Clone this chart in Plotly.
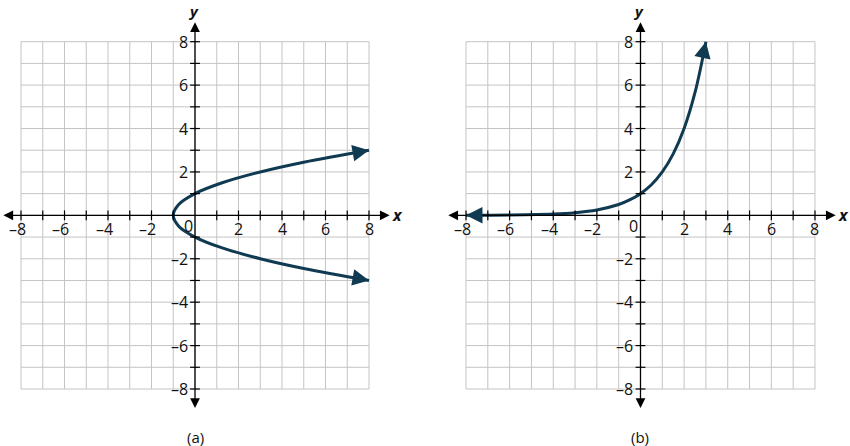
import plotly.graph_objects as go

# grid / tick values shared by both panels
grid_vals = list(range(-8, 9))
tick_labels = [-8, -6, -4, -2, 2, 4, 6, 8]

# (a) sideways parabola
para_x = [8, 5, 3, 1.25, 0, -0.75, -1, -0.75, 0, 1.25, 3, 5, 8]
para_y = [-3, -2.45, -2, -1.5, -1, -0.5, 0, 0.5, 1, 1.5, 2, 2.45, 3]

# (b) exponential curve
exp_x = [-8, -6, -4, -3, -2, -1, -0.5, 0, 0.5, 1, 1.5, 2, 2.5, 3]
exp_y = [0.004, 0.016, 0.06, 0.125, 0.25, 0.5, 0.71, 1, 1.41, 2, 2.83, 4, 5.66, 8]

curve_color = "#0f3a52"
grid_color = "#c4c4c4"
text_color = "#111111"
font_family = "Open Sans"

fig = go.Figure()

panels = [("x", "y", para_x, para_y, "(a)"), ("x2", "y2", exp_x, exp_y, "(b)")]
shapes = []
annotations = []

for xa, ya, cx, cy, lab in panels:
    # square grid, only over -8..8
    for v in grid_vals:
        shapes.append(dict(type="line", xref=xa, yref=ya, x0=v, x1=v, y0=-8, y1=8,
                           line=dict(color=grid_color, width=1), layer="below"))
        shapes.append(dict(type="line", xref=xa, yref=ya, x0=-8, x1=8, y0=v, y1=v,
                           line=dict(color=grid_color, width=1), layer="below"))

    fig.add_trace(go.Scatter(x=cx, y=cy, mode="lines", xaxis=xa, yaxis=ya,
                             line=dict(color=curve_color, width=3, shape="spline"),
                             showlegend=False, hoverinfo="skip"))
    # small tick marks crossing the axes
    nz = [v for v in grid_vals if v != 0]
    fig.add_trace(go.Scatter(x=nz, y=[0] * len(nz), mode="markers", xaxis=xa, yaxis=ya,
                             marker=dict(symbol="line-ns", size=7, line=dict(color="black", width=1.2)),
                             showlegend=False, hoverinfo="skip"))
    fig.add_trace(go.Scatter(x=[0] * len(nz), y=nz, mode="markers", xaxis=xa, yaxis=ya,
                             marker=dict(symbol="line-ew", size=7, line=dict(color="black", width=1.2)),
                             showlegend=False, hoverinfo="skip"))

    # axis lines with arrowheads at both ends
    annotations.append(dict(x=8.95, y=0, ax=-8.88, ay=0, xref=xa, yref=ya,
                            axref=xa, ayref=ya, text="", showarrow=True,
                            arrowhead=2, startarrowhead=2, arrowside="end+start",
                            arrowsize=1.5, startarrowsize=1.5, arrowwidth=1.3, arrowcolor="black"))
    annotations.append(dict(x=0, y=8.9, ax=0, ay=-8.95, xref=xa, yref=ya,
                            axref=xa, ayref=ya, text="", showarrow=True,
                            arrowhead=2, startarrowhead=2, arrowside="end+start",
                            arrowsize=1.5, startarrowsize=1.5, arrowwidth=1.3, arrowcolor="black"))
    # tick labels (digit centred on the tick, dash hanging left)
    for v in tick_labels:
        annotations.append(dict(x=v, y=0, xref=xa, yref=ya, text=str(v).replace("-", "–"),
                                showarrow=False, yshift=-14, xshift=-4 if v < 0 else 0,
                                font=dict(size=16, color=text_color)))
        annotations.append(dict(x=0, y=v, xref=xa, yref=ya, text=str(v).replace("-", "–"),
                                showarrow=False, xanchor="right", xshift=-5,
                                font=dict(size=16, color=text_color)))
    annotations.append(dict(x=0, y=0, xref=xa, yref=ya, text="0", showarrow=False,
                            xshift=-7, yshift=-11, font=dict(size=16, color=text_color)))
    # axis names
    annotations.append(dict(x=9.33, y=0, xref=xa, yref=ya, text="<b><i>x</i></b>",
                            showarrow=False, font=dict(size=16, color=text_color)))
    annotations.append(dict(x=0, y=9.4, xref=xa, yref=ya, text="<b><i>y</i></b>",
                            showarrow=False, xshift=-2, font=dict(size=15, color=text_color)))
    # panel label
    annotations.append(dict(x=0, y=-10.2, xref=xa, yref=ya, text=lab, showarrow=False,
                            font=dict(size=15, color=text_color)))

# arrowheads at the curve ends, pointing along the curve
curve_ends = [("x", "y", para_x[-1], para_y[-1], para_x[-2], para_y[-2]),
              ("x", "y", para_x[0], para_y[0], para_x[1], para_y[1]),
              ("x2", "y2", exp_x[-1], exp_y[-1], exp_x[-2], exp_y[-2]),
              ("x2", "y2", exp_x[0], exp_y[0], exp_x[1], exp_y[1])]
for xa, ya, ex, ey, px, py in curve_ends:
    dx, dy = ex - px, ey - py
    k = 0.35 / max(abs(dx), abs(dy))
    annotations.append(dict(x=ex, y=ey, ax=ex - dx * k, ay=ey - dy * k, xref=xa, yref=ya,
                            axref=xa, ayref=ya, text="", showarrow=True, arrowhead=2,
                            arrowsize=1.1, arrowwidth=3, arrowcolor=curve_color))

axis_style = dict(showgrid=False, zeroline=False, showticklabels=False, ticks="",
                  showline=False, fixedrange=True)

fig.update_layout(
    width=850, height=446,
    margin=dict(l=0, r=0, t=0, b=0),
    paper_bgcolor="white", plot_bgcolor="white",
    font=dict(family=font_family),
    xaxis=dict(domain=[0, 0.5], range=[-8.966, 10.575], anchor="y", **axis_style),
    yaxis=dict(domain=[0, 1], range=[-10.626, 9.921], anchor="x", **axis_style),
    xaxis2=dict(domain=[0.5, 1], range=[-9.88, 9.606], anchor="y2", **axis_style),
    yaxis2=dict(domain=[0, 1], range=[-10.626, 9.921], anchor="x2", **axis_style),
    shapes=shapes,
    annotations=annotations,
)

fig.write_html("out.html", config={"displayModeBar": False},
               post_script="document.body.style.margin='0px';")
